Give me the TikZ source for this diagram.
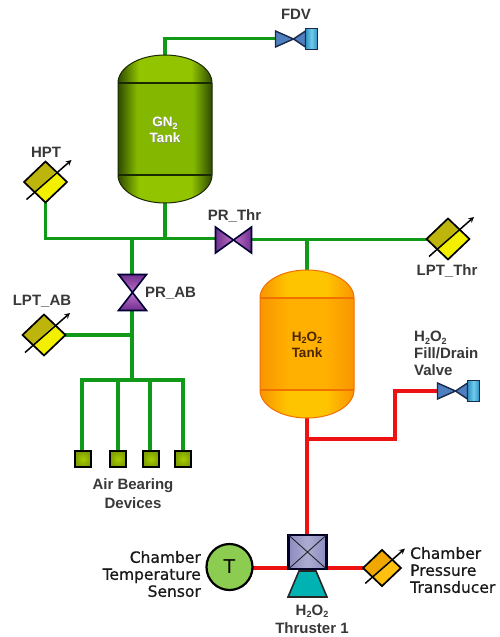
\documentclass[tikz,border=0pt]{standalone}
\usepackage{fontspec}
\setmainfont{Liberation Sans}
\newfontfamily\chamberfont[FakeBold=0.6]{DejaVu Sans}
\newfontfamily\plainfont{DejaVu Sans}
\usetikzlibrary{calc}
\definecolor{pipeg}{HTML}{109A18}
\definecolor{piper}{HTML}{EE1111}
\definecolor{labelc}{HTML}{383838}
\definecolor{gnedge}{HTML}{2F4A00}
\definecolor{gnmid}{HTML}{84B800}
\definecolor{gndome}{HTML}{92C400}
\definecolor{gnline}{HTML}{1A2A00}
\definecolor{hedge}{HTML}{F99500}
\definecolor{hmid}{HTML}{FFB000}
\definecolor{hdome}{HTML}{FFC400}
\definecolor{hline}{HTML}{F07000}
\definecolor{vblue}{HTML}{4F7FBF}
\definecolor{vedge}{HTML}{1B2A4A}
\definecolor{vcyan}{HTML}{6FCCEC}
\definecolor{vcyand}{HTML}{2F8FC0}
\definecolor{pdark}{HTML}{6F2F8F}
\definecolor{plight}{HTML}{C070C8}
\definecolor{tcol}{HTML}{8CCC50}
\definecolor{sqmid}{HTML}{A8CC00}
\definecolor{sqout}{HTML}{7FA000}
\definecolor{xdark}{HTML}{BDB40C}
\definecolor{xbright}{HTML}{F2F000}
\definecolor{odark}{HTML}{F0A800}
\definecolor{obright}{HTML}{FFC010}
\pgfdeclarehorizontalshading{gnbody}{100bp}{color(0bp)=(gnedge); color(25bp)=(gnedge); color(35bp)=(gnmid); color(65bp)=(gnmid); color(75bp)=(gnedge); color(100bp)=(gnedge)}
\pgfdeclarehorizontalshading{gndomes}{100bp}{color(0bp)=(gnedge); color(25bp)=(gnedge); color(36bp)=(gndome); color(64bp)=(gndome); color(75bp)=(gnedge); color(100bp)=(gnedge)}
\pgfdeclarehorizontalshading{hbody}{100bp}{color(0bp)=(hedge); color(25bp)=(hedge); color(40bp)=(hmid); color(60bp)=(hmid); color(75bp)=(hedge); color(100bp)=(hedge)}
\pgfdeclarehorizontalshading{hdomes}{100bp}{color(0bp)=(hedge); color(25bp)=(hedge); color(40bp)=(hdome); color(60bp)=(hdome); color(75bp)=(hedge); color(100bp)=(hedge)}
\newcommand{\sbt}[1]{\raisebox{-.3ex}{\fontsize{9}{9}\selectfont #1}}
\tikzset{
  x=1pt,y=-1pt,
  port/.style={inner sep=0pt,minimum size=0pt},
  gpipe/.style={draw=pipeg,line width=3.8pt,line cap=butt,line join=miter},
  rpipe/.style={draw=piper,line width=4.4pt,line cap=butt,line join=miter},
  lab/.style={inner sep=0pt,font=\fontsize{15}{19}\selectfont\bfseries,text=labelc},
  ctext/.style={inner sep=0pt,font=\fontsize{15.5}{17}\chamberfont,text=black!90},
  valvepart/.style={draw=black!80!blue,line width=1.6pt,line join=miter},
}
% cx cy body-shading dome-shading outline
\newcommand{\tankshape}[5]{%
  \begin{scope}[shift={(#1,#2)}]
    \shade[shading=#4] (-47,-46) arc[start angle=180,end angle=360,x radius=47,y radius=28] -- cycle;
    \shade[shading=#4] (-47,46) arc[start angle=180,end angle=360,x radius=47,y radius=-28] -- cycle;
    \shade[shading=#3] (-47,-46) rectangle (47,46);
    \draw[draw=#5,line width=1pt] (-47,-46) arc[start angle=180,end angle=360,x radius=47,y radius=28] -- (47,46) arc[start angle=0,end angle=-180,x radius=47,y radius=-28] -- cycle;
    \draw[draw=#5,line width=1.6pt] (-47,-46) -- (47,-46) (-47,46) -- (47,46);
  \end{scope}}
% cx cy half darkhalf brighthalf
\newcommand{\xdcr}[5]{%
  \begin{scope}[shift={(#1,#2)},scale=#3/21]
    \fill[fill=#4] (0,-20.5) -- (10.75,-10.25) -- (-10.75,10.25) -- (-21.5,0) -- cycle;
    \fill[fill=#5] (21.5,0) -- (0,20.5) -- (-10.75,10.25) -- (10.75,-10.25) -- cycle;
    \draw[draw=black,line width=1.7pt,line join=miter] (0,-20.5) -- (21.5,0) -- (0,20.5) -- (-21.5,0) -- cycle;
    \draw[black,line width=1.5pt,-stealth] (-19,17.5) -- (26,-22);
  \end{scope}}
\newcommand{\bvalve}[1]{%
  \begin{scope}[shift={#1}]
    \fill[draw=vedge,line width=1.4pt,fill=vblue] (0,-8) -- (18,0) -- (0,8) -- cycle;
    \fill[draw=vedge,line width=1.4pt,fill=vblue] (18,0) -- (30,-8) -- (30,8) -- cycle;
    \shade[draw=vedge,line width=1.6pt,left color=vcyand,right color=vcyand,middle color=vcyan] (30,-10.5) rectangle (42,10.5);
  \end{scope}}
\begin{document}
\begin{tikzpicture}
\useasboundingbox (0,0) rectangle (499,637);
\fill[white] (0,0) rectangle (499,637);
% connection nodes
\node[port] (gntop) at (165,55) {};
\node[port] (gnbot) at (165,203) {};
\node[port] (fdv) at (276,38.5) {};
\node[port] (hpt) at (45.5,201) {};
\node[port] (prthrL) at (216,238.5) {};
\node[port] (prthrR) at (251,239.5) {};
\node[port] (lptthr) at (429,239.5) {};
\node[port] (prabT) at (132,275) {};
\node[port] (prabB) at (132,310) {};
\node[port] (lptab) at (63,335) {};
\node[port] (htop) at (307,270) {};
\node[port] (hbot) at (307,418) {};
\node[port] (fdrain) at (438,391) {};
\node[port] (thrT) at (307,535) {};
\node[port] (thrL) at (288,568) {};
\node[port] (thrR) at (327,568) {};
\node[port] (tsens) at (252,568) {};
\node[port] (cpt) at (365,568) {};
\node[port] (ab1) at (82,451) {};
\node[port] (ab2) at (118,451) {};
\node[port] (ab3) at (150,451) {};
\node[port] (ab4) at (183,451) {};
\coordinate (jgn) at (165,238.5);
\coordinate (jab) at (132,238.5);
\coordinate (jlpt) at (132,335);
\coordinate (jbus) at (132,380);
\coordinate (jh) at (307,239.5);
\coordinate (jr) at (307,439);
% green pipes
\draw[gpipe] (gntop) -- (165,38.5) -- (fdv);
\draw[gpipe] (hpt) |- (prthrL);
\draw[gpipe] (gnbot) -- (jgn);
\draw[gpipe] (jab) -- (prabT);
\draw[gpipe] (prabB) -- (jbus);
\draw[gpipe] (lptab) -- (jlpt);
\draw[gpipe] (prthrR) -- (lptthr);
\draw[gpipe] (jh) -- (htop);
\draw[gpipe] (ab1) |- (jbus);
\draw[gpipe] (ab4) |- (jbus);
\draw[gpipe,line width=3.4pt] (ab2) -- (118,380);
\draw[gpipe,line width=3.4pt] (ab3) -- (150,380);
% red pipes
\draw[rpipe] (hbot) -- (thrT);
\draw[rpipe] (jr) -- (395,439) -- (395,391) -- (fdrain);
\draw[rpipe] (tsens) -- (thrL);
\draw[rpipe] (thrR) -- (cpt);
% tanks
\tankshape{165}{129}{gnbody}{gndomes}{gnline}
\tankshape{307}{344}{hbody}{hdomes}{hline}
\node[inner sep=0pt,align=center,font=\fontsize{13.5}{15.5}\selectfont\bfseries,text=black!45,xshift=.7pt,yshift=-.7pt] (gnshadow) at (165,130) {GN\sbt{2}\\Tank};
\node[inner sep=0pt,align=center,font=\fontsize{13.5}{15.5}\selectfont\bfseries,text=white] (gnlabel) at (165,130) {GN\sbt{2}\\Tank};
\node[inner sep=0pt,align=center,font=\fontsize{13.5}{16}\selectfont\bfseries,text=black!70!orange] (hlabel) at (307,345) {H\sbt{2}O\sbt{2}\\Tank};
% transducers
\xdcr{45.5}{182}{21}{xdark}{xbright}
\xdcr{44}{335}{21}{xdark}{xbright}
\xdcr{448}{239}{21}{xdark}{xbright}
\xdcr{382}{568}{18.5}{odark}{obright}
% valves
\bvalve{(275.5,39)}
\bvalve{(437.5,391)}
\begin{scope}[shift={(233.5,240)}]
  \shade[valvepart,left color=pdark,right color=plight] (-18,-13) -- (0,0) -- (-18,13) -- cycle;
  \shade[valvepart,right color=pdark,left color=plight] (18,-13) -- (0,0) -- (18,13) -- cycle;
\end{scope}
\begin{scope}[shift={(132.5,292.5)}]
  \shade[valvepart,top color=pdark,bottom color=plight] (-14,-18) -- (0,0) -- (14,-18) -- cycle;
  \shade[valvepart,bottom color=pdark,top color=plight] (-14,18) -- (0,0) -- (14,18) -- cycle;
\end{scope}
% air bearing devices
\foreach \c in {83,118,151,183}{
  \shade[draw=black,line width=2.2pt,inner color=sqmid,outer color=sqout] (\c-8,451) rectangle (\c+8,467);
}
% thruster
\shade[draw=black!85,line width=1.6pt,left color=cyan!70!black,middle color=cyan!70!white,right color=cyan!70!black,line join=miter] (299,571) -- (316,571) -- (327,597) -- (288,597) -- cycle;
\shade[draw=black!85!blue,line width=2.2pt,left color=blue!30!gray!70,right color=blue!30!gray!70,middle color=blue!30!gray!50] (288.5,535) rectangle (326.5,569);
\draw[black!85,line width=.9pt] (288.5,535) -- (326.5,569) (326.5,535) -- (288.5,569);
% temperature sensor
\node[circle,draw=black,line width=2.2pt,fill=tcol,minimum size=46pt,inner sep=0pt,font=\fontsize{19}{19}\plainfont] (tcirc) at (229.5,567) {T};
% labels
\node[lab] (lfdv) at (296,14.5) {FDV};
\node[lab] (lhpt) at (46,152.5) {HPT};
\node[lab] (lprthr) at (234.5,215.5) {PR\_Thr};
\node[lab,anchor=west] (lprab) at (145,293) {PR\_AB};
\node[lab] (llptab) at (42,301.5) {LPT\_AB};
\node[lab] (llptthr) at (447,271) {LPT\_Thr};
\node[lab,align=center] (lab) at (133,493.5) {Air Bearing\\Devices};
\node[lab,align=left,anchor=north west,font=\fontsize{15}{17}\selectfont\bfseries] (lfill) at (414,331) {H\sbt{2}O\sbt{2}\\Fill/Drain\\Valve};
\node[lab,align=center,font=\fontsize{15}{18}\selectfont\bfseries] (lthr) at (312,619) {H\sbt{2}O\sbt{2}\\Thruster 1};
\node[ctext,align=right,anchor=east] (ltemp) at (201,574) {Chamber\\Temperature\\Sensor};
\node[ctext,align=left,anchor=west] (lpress) at (410,570) {Chamber\\Pressure\\Transducer};
\end{tikzpicture}
\end{document}
